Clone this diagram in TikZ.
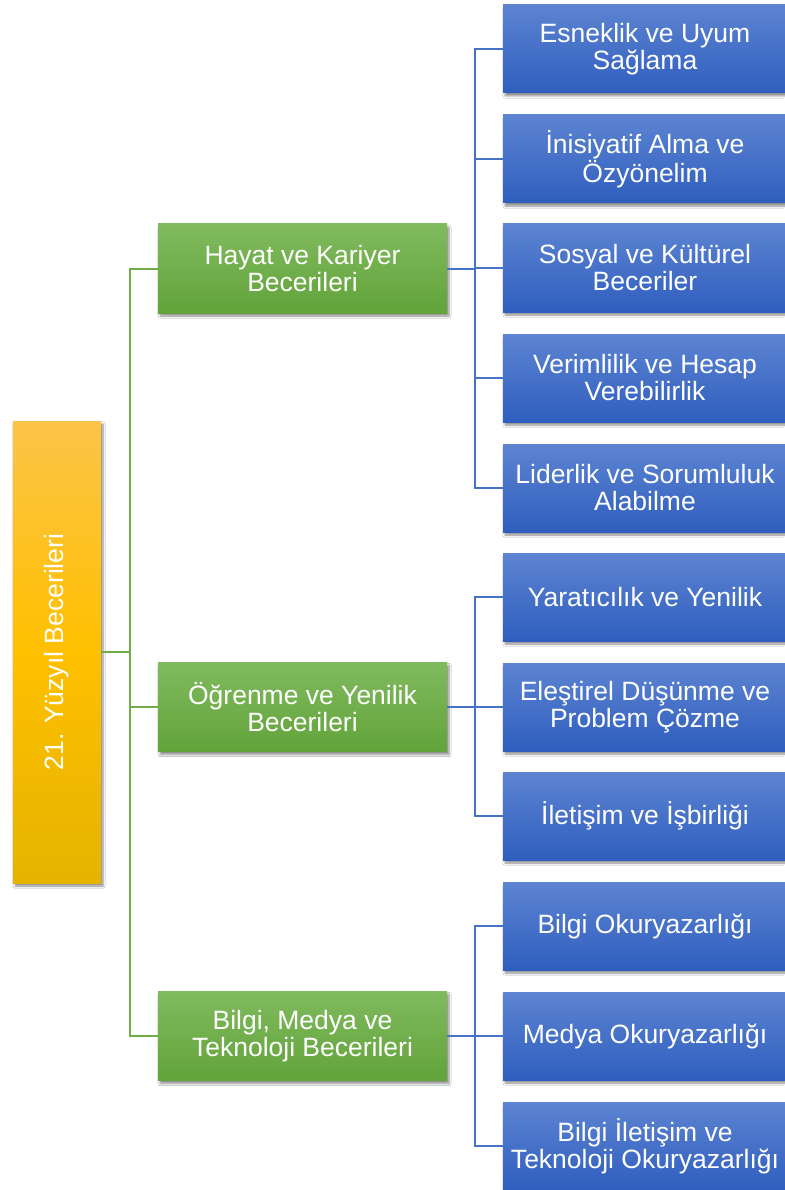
\documentclass[tikz,border=0pt]{standalone}
\usepackage{fontspec}
\setmainfont{Liberation Sans}
\usetikzlibrary{shadows.blur}

% colours of the chart
\definecolor{rootTop}{RGB}{251,196,72}
\definecolor{rootMid}{RGB}{255,192,0}
\definecolor{rootBot}{RGB}{229,179,0}
\definecolor{grnTop}{RGB}{128,186,94}
\definecolor{grnBot}{RGB}{98,163,58}
\definecolor{bluTop}{RGB}{93,132,210}
\definecolor{bluBot}{RGB}{47,94,190}
\definecolor{grnLine}{RGB}{112,173,71}
\definecolor{bluLine}{RGB}{68,114,196}

\tikzset{
  boxbase/.style={rectangle, inner sep=0pt, text=white, align=center,
    font=\fontsize{26.5}{27}\selectfont,
    blur shadow={shadow xshift=2pt, shadow yshift=-3pt, shadow opacity=45, shadow blur steps=6}},
  rootbox/.style={boxbase, minimum width=88pt, minimum height=462pt,
    top color=rootTop, bottom color=rootBot, middle color=rootMid},
  catbox/.style={boxbase, minimum width=289pt, minimum height=89pt,
    top color=grnTop, bottom color=grnBot},
  skillbox/.style={boxbase, minimum width=284pt, minimum height=88pt,
    top color=bluTop, bottom color=bluBot},
  glink/.style={draw=grnLine, line width=2pt},
  blink/.style={draw=bluLine, line width=2pt},
}

\begin{document}
\begin{tikzpicture}[x=1pt, y=-1pt]
  \useasboundingbox (0,0) rectangle (784,1190);
  \fill[white] (0,0) rectangle (784,1190);

  % root
  \node[rootbox] (root) at (57,652) {};
  \node[text=white, font=\fontsize{26.5}{27}\selectfont, rotate=90] (rootlabel) at (root.center) {21. Yüzyıl Becerileri};

  % categories
  \node[catbox] (g1) at (302.5,268.5) {Hayat ve Kariyer\\Becerileri};
  \node[catbox] (g2) at (302.5,707)   {Öğrenme ve Yenilik\\Becerileri};
  \node[catbox] (g3) at (302.5,1036)  {Bilgi, Medya ve\\Teknoloji Becerileri};

  % skills
  \node[skillbox] (b1)  at (645,49)   {Esneklik ve Uyum\\Sağlama};
  \node[skillbox] (b2)  at (645,159)  {İnisiyatif Alma ve\\Özyönelim};
  \node[skillbox] (b3)  at (645,268)  {Sosyal ve Kültürel\\Beceriler};
  \node[skillbox] (b4)  at (645,378)  {Verimlilik ve Hesap\\Verebilirlik};
  \node[skillbox] (b5)  at (645,488)  {Liderlik ve Sorumluluk\\Alabilme};
  \node[skillbox] (b6)  at (645,597)  {Yaratıcılık ve Yenilik};
  \node[skillbox] (b7)  at (645,707)  {Eleştirel Düşünme ve\\Problem Çözme};
  \node[skillbox] (b8)  at (645,816)  {İletişim ve İşbirliği};
  \node[skillbox] (b9)  at (645,926)  {Bilgi Okuryazarlığı};
  \node[skillbox] (b10) at (645,1036) {Medya Okuryazarlığı};
  \node[skillbox] (b11) at (645,1146) {Bilgi İletişim ve\\Teknoloji Okuryazarlığı};

  % elbow connectors: root to categories
  \foreach \g in {g1,g2,g3}
    \draw[glink] (root.east) -- ++(29,0) |- (\g.west);
  % elbow connectors: categories to skills
  \foreach \b in {b1,b2,b3,b4,b5}
    \draw[blink] (g1.east) -- ++(28,0) |- (\b.west);
  \foreach \b in {b6,b7,b8}
    \draw[blink] (g2.east) -- ++(28,0) |- (\b.west);
  \foreach \b in {b9,b10,b11}
    \draw[blink] (g3.east) -- ++(28,0) |- (\b.west);
\end{tikzpicture}
\end{document}
